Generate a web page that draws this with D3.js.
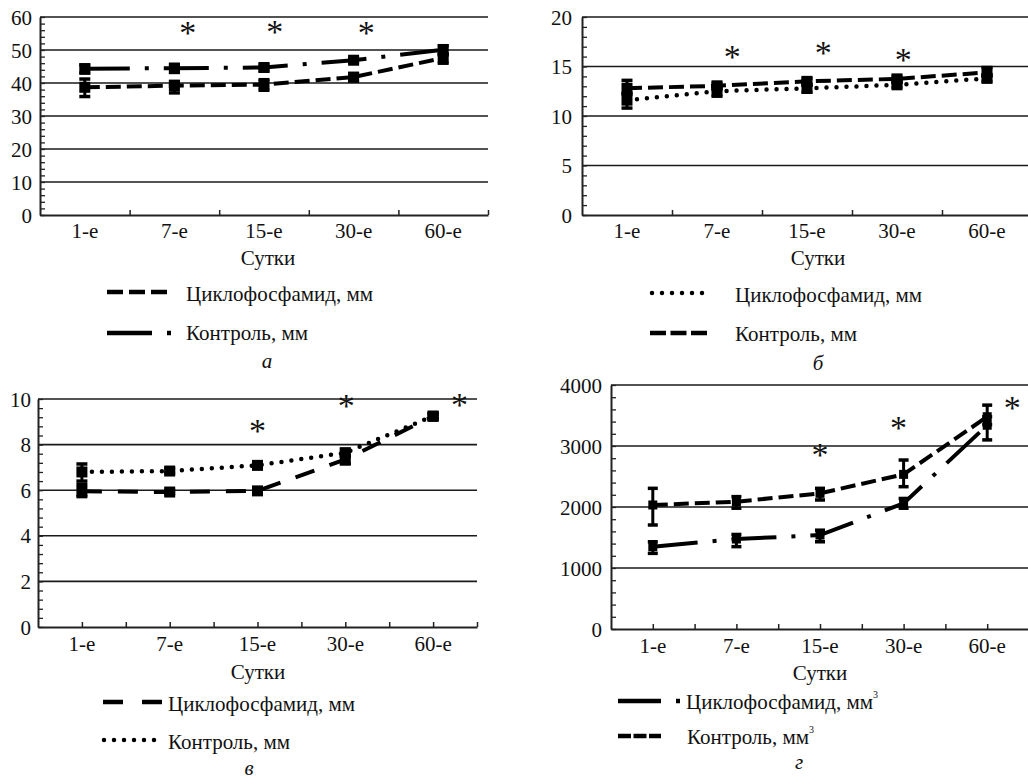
<!DOCTYPE html>
<html><head><meta charset="utf-8">
<script src="https://cdn.jsdelivr.net/npm/d3@7"></script>
<style>
body{margin:0;background:#fff}
svg{display:block}
</style>
</head><body>
<svg id="chart" width="1028" height="780"></svg>
<script>
// ---------- DATA ----------
const categories = ["1-е", "7-е", "15-е", "30-е", "60-е"];
const xTitle = "Сутки";

// Panel а
const aTicks = [0, 10, 20, 30, 40, 50, 60];
const aCyclo      = [38.7, 39.2, 39.5, 41.8, 47.6];
const aCycloLow   = [35.9, 37.0, 37.8, 40.6, 46.0];
const aCycloHigh  = [41.2, 40.5, 41.0, 42.8, 48.6];
const aControl     = [44.3, 44.5, 44.7, 46.9, 50.1];
const aControlLow  = [43.0, 43.2, 43.7, 46.3, 48.6];
const aControlHigh = [45.5, 45.6, 45.6, 47.5, 51.3];
const aStarCats = ["7-е", "15-е", "30-е"];
const aStarVals = [56.7, 57.0, 56.7];
const aLegend = ["Циклофосфамид, мм", "Контроль, мм"];

// Panel б
const bTicks = [0, 5, 10, 15, 20];
const bCyclo      = [11.6, 12.5, 12.8, 13.15, 13.8];
const bCycloLow   = [10.8, 12.0, 12.4, 12.9, 13.5];
const bCycloHigh  = [12.2, 12.8, 13.1, 13.4, 14.1];
const bControl     = [12.8, 13.05, 13.5, 13.75, 14.4];
const bControlLow  = [12.3, 12.8, 13.2, 13.4, 14.1];
const bControlHigh = [13.6, 13.3, 13.8, 14.0, 14.9];
const bStarCats = ["7-е", "15-е", "30-е"];
const bStarVals = [16.5, 16.9, 16.2];
const bLegend = ["Циклофосфамид, мм", "Контроль, мм"];

// Panel в
const cTicks = [0, 2, 4, 6, 8, 10];
const cCyclo      = [5.95, 5.92, 5.97, 7.35, 9.24];
const cCycloLow   = [5.72, 5.85, 5.9, 7.15, 9.15];
const cCycloHigh  = [6.25, 6.0, 6.05, 7.5, 9.35];
const cControl     = [6.8, 6.84, 7.09, 7.64, 9.25];
const cControlLow  = [6.4, 6.75, 6.95, 7.5, 9.15];
const cControlHigh = [7.15, 6.95, 7.2, 7.8, 9.35];
const cStarCats = ["15-е", "30-е", "60-е"];
const cStarVals = [8.8, 9.9, 9.97];
const cLegend = ["Циклофосфамид, мм", "Контроль, мм"];

// Panel г
const dTicks = [0, 1000, 2000, 3000, 4000];
const dCyclo      = [1350, 1475, 1540, 2060, 3340];
const dCycloLow   = [1240, 1350, 1430, 1980, 3100];
const dCycloHigh  = [1430, 1550, 1620, 2140, 3480];
const dControl     = [2033, 2087, 2224, 2535, 3480];
const dControlLow  = [1705, 1980, 2115, 2333, 3350];
const dControlHigh = [2306, 2170, 2306, 2770, 3670];
const dStarCats = ["15-е", "30-е", "60-е"];
const dStarVals = [2934, 3377, 3705];
const dLegend = ["Циклофосфамид, мм", "Контроль, мм"];

const panelLetters = ["а", "б", "в", "г"];

// ---------- STYLES ----------
const FONT = "\"Liberation Serif\", \"DejaVu Serif\", \"Noto Serif\", \"Times New Roman\", Times, serif";
const ST = {
  shortDash: {dash: "15,6", cap: "butt"},
  dotted:    {dash: "0,10", cap: "round"},
  longDash:  {dash: "20,16", cap: "butt"},
  dashDot:   {dash: "45,15,4,15", cap: "butt"}
};

const svg = d3.select("#chart");
const FS = 21;

function txt(sel, size) {
  return sel.attr("font-family", FONT).attr("font-size", size).attr("fill", "#111");
}

function drawPanel(p) {
  const g = svg.append("g");
  const x = d3.scaleBand().domain(categories).range([p.left, p.right]);
  const xi = d3.scaleLinear().domain([0, categories.length]).range([p.left, p.right]);
  const y = d3.scaleLinear().domain([p.ticks[0], p.ticks[p.ticks.length - 1]]).range([p.bottom, p.top]);
  const cx = c => x(c) + x.bandwidth() / 2;

  g.selectAll(".grid").data(p.ticks.slice(1)).join("line")
    .attr("x1", p.left).attr("x2", p.gridRight)
    .attr("y1", d => y(d)).attr("y2", d => y(d))
    .attr("stroke", "#1a1a1a").attr("stroke-width", 1.6);

  const step = (p.ticks[1] - p.ticks[0]) / 5;
  const minor = d3.range(p.ticks[0], p.ticks[p.ticks.length - 1] + step / 2, step);
  const ym = g.append("g").attr("transform", `translate(${p.left},0)`)
    .call(d3.axisRight(y).tickValues(minor).tickSize(5).tickSizeOuter(0).tickFormat(""));
  ym.selectAll("line").attr("stroke", "#222").attr("stroke-width", 1.3);
  ym.select(".domain").attr("stroke", "#222").attr("stroke-width", 2);

  const yl = g.append("g").attr("transform", `translate(${p.left},0)`)
    .call(d3.axisLeft(y).tickValues(p.ticks).tickSize(0).tickPadding(p.labelGap).tickFormat(d3.format("d")));
  yl.select(".domain").remove();
  txt(yl, FS);
  txt(yl.selectAll("text"), FS).attr("dy", "0.34em");

  const tv = p.centerTicks ? d3.range(0.5, categories.length + 0.01, 0.5) : d3.range(1, categories.length + 0.01, 1);
  const xa = g.append("g").attr("transform", `translate(0,${p.bottom})`)
    .call(d3.axisTop(xi).tickValues(tv).tickSize(5).tickSizeOuter(0).tickFormat(""));
  xa.selectAll("line").attr("stroke", "#222").attr("stroke-width", 1.5);
  xa.select(".domain").attr("stroke", "#222").attr("stroke-width", 2);

  const xl = g.append("g").attr("transform", `translate(0,${p.bottom})`)
    .call(d3.axisBottom(x).tickSize(0).tickPadding(p.xLabelPad));
  xl.select(".domain").remove();
  txt(xl, FS);
  txt(xl.selectAll("text"), FS);

  txt(g.append("text").attr("x", p.titleX).attr("y", p.titleY).attr("text-anchor", "middle"), FS).text(xTitle);

  p.series.forEach(s => {
    const line = d3.line().x((d, i) => cx(categories[i])).y(d => y(d));
    g.append("path").attr("d", line(s.values)).attr("fill", "none")
      .attr("stroke", "#000").attr("stroke-width", s.style === ST.dotted ? 4.5 : 4)
      .attr("stroke-dasharray", s.style.dash).attr("stroke-linecap", s.style.cap);
  });

  p.series.forEach(s => {
    categories.forEach((c, i) => {
      const X = cx(c);
      g.append("line").attr("x1", X).attr("x2", X)
        .attr("y1", y(s.low[i])).attr("y2", y(s.high[i]))
        .attr("stroke", "#000").attr("stroke-width", 3);
      [s.low[i], s.high[i]].forEach(v => {
        g.append("line").attr("x1", X - p.capW / 2).attr("x2", X + p.capW / 2)
          .attr("y1", y(v)).attr("y2", y(v)).attr("stroke", "#000").attr("stroke-width", 3.5);
      });
      g.append("rect").attr("x", X - p.ms / 2).attr("y", y(s.values[i]) - p.ms / 2)
        .attr("width", p.ms).attr("height", p.ms).attr("fill", "#000");
    });
  });

  p.starCats.forEach((c, i) => {
    txt(g.append("text").attr("x", cx(c) + p.starShift[i] * x.bandwidth())
      .attr("y", y(p.starVals[i]) + 16).attr("text-anchor", "middle"), 34).text("*");
  });

  p.legend.forEach((L, i) => {
    g.append("line").attr("x1", L.x1).attr("x2", L.x2).attr("y1", L.ly).attr("y2", L.ly)
      .attr("stroke", "#000").attr("stroke-width", 4.5)
      .attr("stroke-dasharray", L.dash || L.style.dash).attr("stroke-linecap", L.style.cap);
    const t = txt(g.append("text").attr("x", L.tx).attr("y", L.ty), FS).text(L.text);
    if (L.sup) t.append("tspan").attr("font-size", 10).attr("dy", -11).text("3");
  });

  txt(g.append("text").attr("x", p.letterX).attr("y", p.letterY).attr("text-anchor", "middle"), FS)
    .attr("font-style", "italic").text(p.letter);
}

drawPanel({
  left: 40, right: 488, top: 17, bottom: 215, gridRight: 488, ticks: aTicks,
  labelGap: 8, centerTicks: false, xLabelPad: 8, titleX: 268, titleY: 265,
  capW: 11, ms: 11,
  series: [
    {values: aCyclo, low: aCycloLow, high: aCycloHigh, style: ST.shortDash},
    {values: aControl, low: aControlLow, high: aControlHigh, style: ST.dashDot}
  ],
  starCats: aStarCats, starVals: aStarVals, starShift: [0.15, 0.12, 0.14],
  legend: [
    {x1: 107, x2: 167, ly: 292, tx: 186, ty: 301, style: ST.shortDash, dash: "16,6", text: aLegend[0]},
    {x1: 107, x2: 171, ly: 333, tx: 186, ty: 340, style: ST.dashDot, text: aLegend[1]}
  ],
  letter: panelLetters[0], letterX: 267, letterY: 368
});

drawPanel({
  left: 582, right: 1032, top: 17, bottom: 215, gridRight: 1028, ticks: bTicks,
  labelGap: 10, centerTicks: false, xLabelPad: 8, titleX: 818, titleY: 265,
  capW: 11, ms: 11,
  series: [
    {values: bCyclo, low: bCycloLow, high: bCycloHigh, style: ST.dotted},
    {values: bControl, low: bControlLow, high: bControlHigh, style: ST.shortDash}
  ],
  starCats: bStarCats, starVals: bStarVals, starShift: [0.17, 0.18, 0.07],
  legend: [
    {x1: 652, x2: 707, ly: 293, tx: 735, ty: 302, style: ST.dotted, text: bLegend[0]},
    {x1: 650, x2: 707, ly: 333, tx: 735, ty: 341, style: ST.shortDash, dash: "16,4.5", text: bLegend[1]}
  ],
  letter: panelLetters[1], letterX: 818, letterY: 370
});

drawPanel({
  left: 38, right: 477, top: 399, bottom: 627, gridRight: 477, ticks: cTicks,
  labelGap: 7, centerTicks: true, xLabelPad: 9, titleX: 258, titleY: 679,
  capW: 11, ms: 11,
  series: [
    {values: cCyclo, low: cCycloLow, high: cCycloHigh, style: ST.longDash},
    {values: cControl, low: cControlLow, high: cControlHigh, style: ST.dotted}
  ],
  starCats: cStarCats, starVals: cStarVals, starShift: [0, 0.01, 0.3],
  legend: [
    {x1: 103, x2: 162, ly: 702, tx: 168, ty: 711, style: ST.longDash, dash: "20,19", text: cLegend[0]},
    {x1: 104, x2: 162, ly: 740, tx: 168, ty: 749, style: ST.dotted, text: cLegend[1]}
  ],
  letter: panelLetters[2], letterX: 249, letterY: 775
});

drawPanel({
  left: 611, right: 1029, top: 385, bottom: 629, gridRight: 1028, ticks: dTicks,
  labelGap: 9, centerTicks: true, xLabelPad: 9, titleX: 820, titleY: 680,
  capW: 10, ms: 9,
  series: [
    {values: dCyclo, low: dCycloLow, high: dCycloHigh, style: ST.dashDot},
    {values: dControl, low: dControlLow, high: dControlHigh, style: ST.shortDash}
  ],
  starCats: dStarCats, starVals: dStarVals, starShift: [0, -0.06, 0.3],
  legend: [
    {x1: 618, x2: 682, ly: 701, tx: 686, ty: 709, style: ST.dashDot, dash: "43,15,4,15", text: dLegend[0], sup: true},
    {x1: 618, x2: 661, ly: 736, tx: 687, ty: 744, style: ST.shortDash, dash: "13,2.5", text: dLegend[1], sup: true}
  ],
  letter: panelLetters[3], letterX: 799, letterY: 769
});
</script>
</body></html>
